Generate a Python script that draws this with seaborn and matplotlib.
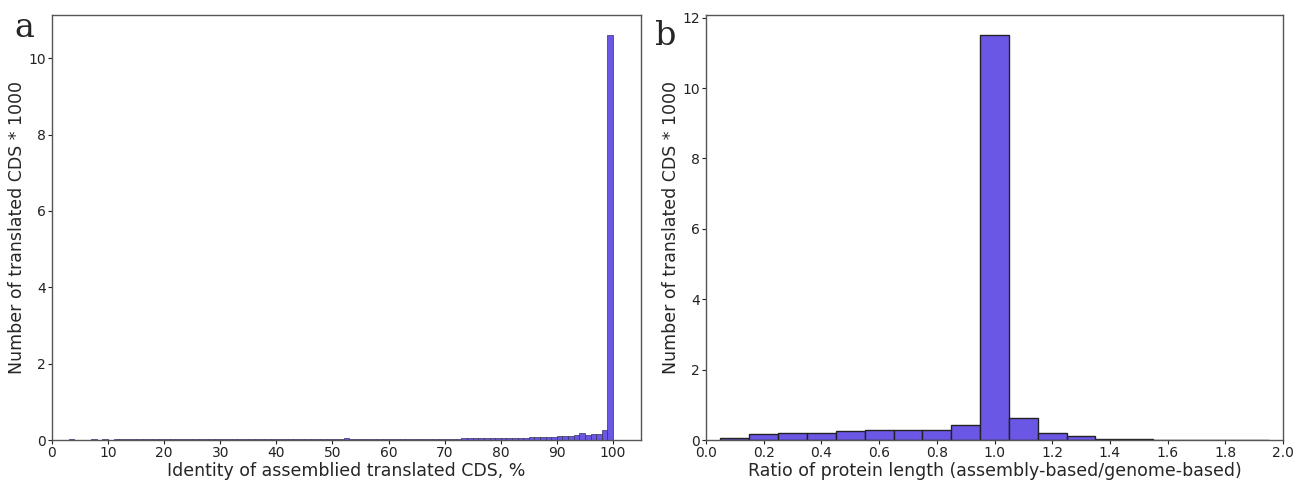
import numpy as np
import pandas as pd
import matplotlib
matplotlib.use("Agg")
import matplotlib.pyplot as plt
import seaborn as sns

# Panel a: identity (%) histogram, 1%-wide bins from 2 to 100 (counts in thousands)
identity_left_edges = list(range(2, 100))
identity_counts = [
    0.012, 0.014, 0.012, 0.010, 0.012, 0.014, 0.012, 0.014, 0.012, 0.014,   # 2-11
    0.014, 0.015, 0.014, 0.015, 0.014, 0.015, 0.016, 0.015, 0.024, 0.025,   # 12-21
    0.024, 0.025, 0.024, 0.025, 0.025, 0.026, 0.027, 0.022, 0.020, 0.022,   # 22-31
    0.022, 0.024, 0.025, 0.026, 0.027, 0.032, 0.022, 0.030, 0.034, 0.036,   # 32-41
    0.034, 0.024, 0.026, 0.030, 0.028, 0.025, 0.026, 0.034, 0.024, 0.026,   # 42-51
    0.050, 0.030, 0.030, 0.030, 0.031, 0.032, 0.032, 0.032, 0.032, 0.032,   # 52-61
    0.032, 0.034, 0.036, 0.038, 0.038, 0.036, 0.034, 0.035, 0.037, 0.038,   # 62-71
    0.038, 0.040, 0.040, 0.042, 0.042, 0.055, 0.050, 0.052, 0.055, 0.058,   # 72-81
    0.060, 0.065, 0.065, 0.068, 0.070, 0.072, 0.075, 0.085, 0.100, 0.105,   # 82-91
    0.110, 0.130, 0.180, 0.130, 0.170, 0.170, 0.260, 10.6,                  # 92-99
]

# Panel b: ratio of protein length, 0.1-wide bins centred on 0.1..1.9
ratio_centers = [0.1, 0.2, 0.3, 0.4, 0.5, 0.6, 0.7, 0.8, 0.9, 1.0,
                 1.1, 1.2, 1.3, 1.4, 1.5, 1.6, 1.7, 1.8, 1.9]
ratio_counts = [0.066, 0.17, 0.19, 0.19, 0.26, 0.27, 0.29, 0.28, 0.44, 11.5,
                0.62, 0.20, 0.105, 0.035, 0.02, 0.012, 0.01, 0.008, 0.006]

BAR = "#6b57e6"
EDGE = "#222222"

sns.set_style("white")
fig = plt.figure(figsize=(13.06, 4.82), dpi=100)
W, H = 1306, 482
axA = fig.add_axes([52 / W, 1 - 440 / H, (641 - 52) / W, (440 - 15) / H])
axB = fig.add_axes([706 / W, 1 - 440 / H, (1283 - 706) / W, (440 - 15) / H])

dfA = pd.DataFrame({"x": np.array(identity_left_edges) + 0.5, "w": identity_counts})
sns.histplot(data=dfA, x="x", weights="w", binwidth=1, binrange=(2, 100),
             color=BAR, edgecolor="#333355", linewidth=0.5, alpha=1, ax=axA)

dfB = pd.DataFrame({"x": ratio_centers, "w": ratio_counts})
sns.histplot(data=dfB, x="x", weights="w", binwidth=0.1, binrange=(0.05, 1.95),
             color=BAR, edgecolor=EDGE, linewidth=1.0, alpha=1, ax=axB)

axA.set_xlim(0, 105)
axA.set_xticks(range(0, 101, 10))
axA.set_yticks([0, 2, 4, 6, 8, 10])
axA.set_xlabel("Identity of assemblied translated CDS, %", fontsize=12.5, labelpad=1)
axA.set_ylabel("Number of translated CDS * 1000", fontsize=12.5, labelpad=1.5)

axB.set_xlim(0, 2.0)
axB.set_xticks(np.round(np.arange(0, 2.01, 0.2), 1))
axB.set_yticks([0, 2, 4, 6, 8, 10, 12])
axB.set_xlabel("Ratio of protein length (assembly-based/genome-based)", fontsize=12.5, labelpad=1)
axB.set_ylabel("Number of translated CDS * 1000", fontsize=12.5, labelpad=1.5)

for ax in (axA, axB):
    ax.tick_params(axis="both", labelsize=10, length=3, width=0.8, pad=1.5,
                   bottom=True, left=True, direction="out", colors="#222222")
    for s in ax.spines.values():
        s.set_color("#555555")
        s.set_linewidth(1.0)

fig.text(14 / W, 1 - 37 / H, "a", fontsize=24, family="DejaVu Serif", va="baseline", ha="left")
fig.text(655 / W, 1 - 45 / H, "b", fontsize=24, family="DejaVu Serif", va="baseline", ha="left")

fig.savefig("out.png", dpi=100)
